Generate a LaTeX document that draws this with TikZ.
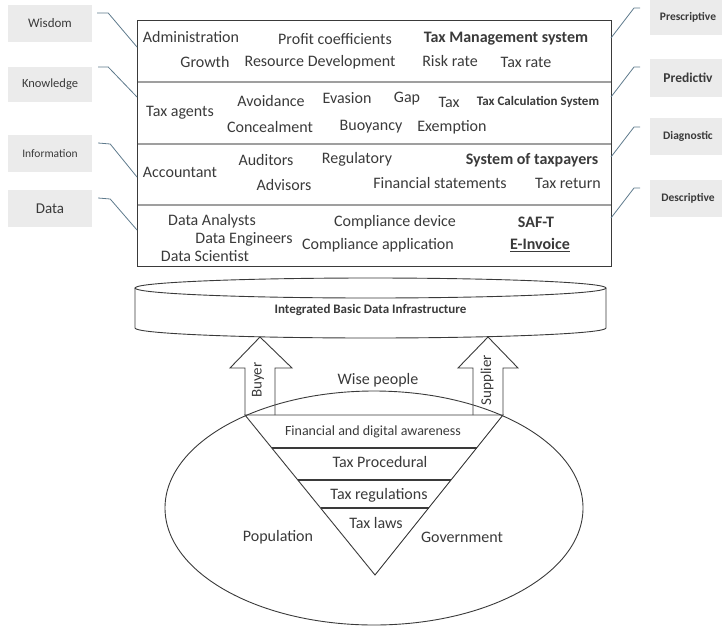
\documentclass[tikz,border=0pt]{standalone}
\usepackage{fontspec}
\setmainfont{Carlito}
\usetikzlibrary{calc}
\definecolor{labelgray}{HTML}{EBEBEB}
\definecolor{linkblue}{HTML}{5E7A8C}
\definecolor{inkgray}{HTML}{3A3A3A}
\newcommand{\txtsize}[1]{\fontsize{#1}{#1}\selectfont}

\begin{document}
\begin{tikzpicture}[x=1pt, y=-1pt,
    every node/.style={text=inkgray, font=\txtsize{16}, inner sep=0pt},
    lvl/.style={fill=labelgray, minimum width=84pt, minimum height=37pt},
    kind/.style={fill=labelgray, minimum width=76pt, minimum height=37pt},
    link/.style={linkblue, line width=0.8pt},
    frame/.style={draw=inkgray, line width=0.9pt},
    sep/.style={gray!75, line width=1.6pt},
    strong/.style={font=\txtsize{16}\bfseries}]
    \useasboundingbox (0,0) rectangle (722,627);

    % level labels
    \node[lvl, font=\txtsize{13}] (wis) at (50,23.5) {Wisdom};
    \node[lvl, font=\txtsize{12.5}, minimum height=35pt] (know) at (50,84.5) {Knowledge};
    \node[lvl, font=\txtsize{11.5}] (info) at (50,153.5) {Information};
    \node[lvl, font=\txtsize{15}] (data) at (50,208.5) {Data};

    \node[kind, font=\txtsize{11.5}\bfseries, minimum height=36pt] (pres) at (688,17) {Prescriptive};
    \node[kind, font=\txtsize{13.5}\bfseries, minimum height=38pt] (pred) at (688,78) {Predictiv};
    \node[kind, font=\txtsize{11.5}\bfseries] (diag) at (688,136.5) {Diagnostic};
    \node[kind, font=\txtsize{11.5}\bfseries] (desc) at (688,198.5) {Descriptive};

    % layered box
    \draw[sep] (137,82) -- (611,82);
    \draw[sep] (137,144) -- (611,144);
    \draw[sep] (137,205) -- (611,205);
    \draw[frame] (137,20) rectangle (611,266);

    \coordinate (wisin) at (137,47);
    \coordinate (knowin) at (137,97);
    \coordinate (infoin) at (137,177);
    \coordinate (datain) at (137,230);
    \coordinate (presin) at (611,38);
    \coordinate (predin) at (611,97);
    \coordinate (diagin) at (611,157);
    \coordinate (descin) at (611,218);

    \draw[link] ([shift={(5,-10.5)}]wis.east) -- ++(11,0) -- (wisin);
    \draw[link] ([shift={(6,-17.5)}]know.east) -- ++(10,0) -- (knowin);
    \draw[link] ([shift={(6,-10.5)}]info.east) -- ++(12,1) -- (infoin);
    \draw[link] ([shift={(6,-10.5)}]data.east) -- ++(12,1) -- (datain);
    \draw[link] (presin) -- ++(23,-30) -- ++(6,0);
    \draw[link] (predin) -- ++(23,-30) -- ++(6,0);
    \draw[link] (diagin) -- ++(23,-30) -- ++(6,0);
    \draw[link] (descin) -- ++(23,-30) -- ++(6,0);

    % wisdom layer
    \node (admin) at (191,37) {Administration};
    \node (profit) at (335,39) {Profit coefficients};
    \node[strong] (tms) at (506,39) {Tax Management system};
    \node (growth) at (205,62) {Growth};
    \node (resdev) at (320,62) {Resource Development};
    \node (risk) at (450,61) {Risk rate};
    \node (taxrate) at (526,62) {Tax rate};

    % knowledge layer
    \node (agents) at (180,113) {Tax agents};
    \node (avoid) at (271,101) {Avoidance};
    \node (evasion) at (347,98) {Evasion};
    \node (gap) at (407,99) {Gap};
    \node (tax) at (449,102) {Tax};
    \node[font=\txtsize{13}\bfseries] (tcs) at (538,102) {Tax Calculation System};
    \node (conceal) at (270,127) {Concealment};
    \node (buoy) at (371,127) {Buoyancy};
    \node (exempt) at (452,127) {Exemption};

    % information layer
    \node (account) at (180,172) {Accountant};
    \node (audit) at (266,160) {Auditors};
    \node (advise) at (284,185) {Advisors};
    \node (regul) at (357,159) {Regulatory};
    \node[strong] (sot) at (532,160) {System of taxpayers};
    \node (finst) at (440,183) {Financial statements};
    \node (taxret) at (568,183) {Tax return};

    % data layer
    \node (analysts) at (212,221) {Data Analysts};
    \node (engineers) at (244,239) {Data Engineers};
    \node (scientist) at (205,256) {Data Scientist};
    \node (device) at (395,222) {Compliance device};
    \node (app) at (378,245) {Compliance application};
    \node[strong] (saft) at (536,222) {SAF-T};
    \node[strong] (einv) at (540,245) {\underline{E-Invoice}};

    % infrastructure cylinder
    \draw[frame] (135,288) -- (135,328)
      arc[start angle=180, end angle=0, x radius=235.5, y radius=10] -- (606,288);
    \draw[frame] (370.5,288) ellipse[x radius=235.5, y radius=10];
    \node[font=\txtsize{13}\bfseries] (ibdi) at (370.5,310) {Integrated Basic Data Infrastructure};

    % society ellipse and triangle
    \draw[frame] (374,508) ellipse[x radius=209, y radius=117];
    \coordinate (tl) at (245,415);
    \coordinate (tr) at (503,415);
    \coordinate (tb) at (375,575);
    \draw[frame] (tl) -- (tr) -- (tb) -- cycle;
    \foreach \f in {0.206, 0.406, 0.581} {
      \draw[frame, line width=1.4pt] ($(tl)!\f!(tb)$) -- ($(tr)!\f!(tb)$);
    }

    % block arrows
    \draw[frame] (245,415) -- (245,368) -- (230,368) -- (260,337)
      -- (292,368) -- (275,368) -- (275,415);
    \draw[frame] (473,415) -- (473,368) -- (458,368) -- (488,337)
      -- (518,368) -- (503,368) -- (503,415);
    \node[rotate=90, font=\txtsize{15}] (buyer) at (258,380) {Buyer};
    \node[rotate=90, font=\txtsize{15}] (supplier) at (487,380) {Supplier};
    \node (wise) at (378,380) {Wise people};

    \node[font=\txtsize{14}] (finaw) at (373,432) {Financial and digital awareness};
    \node (proc) at (380,462) {Tax Procedural};
    \node (regs) at (379,495) {Tax regulations};
    \node (laws) at (376,523) {Tax laws};
    \node (pop) at (278,537) {Population};
    \node (gov) at (462,537) {Government};
\end{tikzpicture}
\end{document}
